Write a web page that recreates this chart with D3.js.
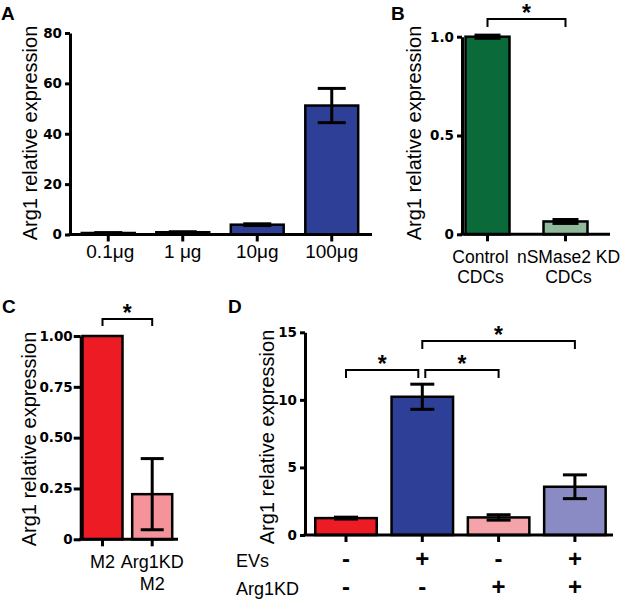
<!DOCTYPE html>
<html><head><meta charset="utf-8">
<script src="https://cdn.jsdelivr.net/npm/d3@7"></script>
<style>body{margin:0;background:#fff} svg{display:block}</style>
</head><body>
<svg id="chart" width="625" height="603"></svg>
<script>
// ---------- data ----------
const aCategories = ["0.1μg", "1 μg", "10μg", "100μg"];
const aValues = [0.6, 0.9, 3.9, 51.2];
const aErrors = [0.15, 0.2, 0.35, 6.8];
const aTicks = [0, 20, 40, 60, 80];

const bCategories = ["Control\nCDCs", "nSMase2 KD\nCDCs"];
const bValues = [1.0, 0.065];
const bErrors = [0.008, 0.01];
const bTicks = [0, 0.5, 1.0];
const bTickLabels = ["0", "0.5", "1.0"];

const cCategories = ["M2", "Arg1KD\nM2"];
const cValues = [1.0, 0.222];
const cErrors = [0, 0.175];
const cTicks = [0, 0.25, 0.5, 0.75, 1.0];
const cTickLabels = ["0", "0.25", "0.50", "0.75", "1.00"];

const dGroups = ["EV-/KD-", "EV+/KD-", "EV-/KD+", "EV+/KD+"];
const dValues = [1.25, 10.23, 1.3, 3.57];
const dErrors = [0.07, 0.93, 0.2, 0.88];
const dTicks = [0, 5, 10, 15];
const dRowLabels = ["EVs", "Arg1KD"];
const dEVs = ["-", "+", "-", "+"];
const dArg1KD = ["-", "-", "+", "+"];

const bSig = [[0, 1]];
const cSig = [[0, 1]];
const dSig = [[0, 1], [1, 2], [1, 3]];

// ---------- drawing ----------
const svg = d3.select("#chart");
const FONT = "'Liberation Sans', Arial, Helvetica, sans-serif";
const NUMFONT = "'DejaVu Sans', sans-serif";

function panel(cfg) {
  const g = svg.append("g");
  const x = d3.scaleBand().domain(cfg.keys).range(cfg.xRange)
    .paddingInner(cfg.pad).paddingOuter(cfg.pad / 2);
  const y = d3.scaleLinear().domain(cfg.yDomain).range(cfg.yRange);
  const cx = k => x(k) + x.bandwidth() / 2;

  // bars
  g.selectAll("rect.bar").data(cfg.values).join("rect")
    .attr("class", "bar")
    .attr("x", (d, i) => x(cfg.keys[i]))
    .attr("width", x.bandwidth())
    .attr("y", d => y(d))
    .attr("height", d => y(0) - y(d))
    .attr("fill", (d, i) => cfg.colors[i])
    .attr("stroke", "#000").attr("stroke-width", 2.5);

  // error bars
  const eg = g.append("g").attr("stroke", "#000").attr("stroke-width", 3);
  cfg.values.forEach((v, i) => {
    const e = cfg.errors[i];
    if (!e) return;
    const c = cx(cfg.keys[i]);
    eg.append("line").attr("x1", c).attr("x2", c).attr("y1", y(v - e)).attr("y2", y(v + e));
    [v - e, v + e].forEach(t => {
      eg.append("line").attr("x1", c - cfg.cap / 2).attr("x2", c + cfg.cap / 2)
        .attr("y1", y(t)).attr("y2", y(t));
    });
  });

  // y axis
  const ya = d3.axisLeft(y).tickValues(cfg.ticks)
    .tickFormat((d, i) => cfg.tickLabels ? cfg.tickLabels[i] : d)
    .tickSize(cfg.tickLen || 5).tickPadding(cfg.tickPad || 3).tickSizeOuter(0);
  const gy = g.append("g").attr("transform", `translate(${cfg.axisX},0)`).call(ya);
  gy.selectAll("path, line").attr("stroke", "#000").attr("stroke-width", 3);
  gy.selectAll("text").attr("font-family", NUMFONT).attr("font-weight", "bold")
    .attr("font-size", 13.5).attr("fill", "#000");

  // x axis
  const xa = d3.axisBottom(x).tickSize(7).tickFormat("").tickSizeOuter(0);
  const gx = g.append("g").attr("transform", `translate(0,${y(0)})`).call(xa);
  gx.select(".domain").remove();
  gx.selectAll("line").attr("stroke", "#000").attr("stroke-width", 3);
  g.append("line").attr("x1", cfg.axisX - 1.5).attr("x2", cfg.xEnd)
    .attr("y1", y(0)).attr("y2", y(0)).attr("stroke", "#000").attr("stroke-width", 3);

  // x labels
  if (cfg.xLabelY) {
    cfg.keys.forEach((k, i) => {
      const lines = cfg.labels[i].split("\n");
      const dx = cfg.labelDx ? cfg.labelDx[i] : 0;
      lines.forEach((ln, j) => {
        g.append("text").attr("x", cx(k) + dx).attr("y", cfg.xLabelY + j * cfg.lineH)
          .attr("text-anchor", "middle").attr("font-family", FONT)
          .attr("font-size", cfg.xFont).attr("fill", "#000").text(ln);
      });
    });
  }

  // y label
  g.append("text")
    .attr("transform", `translate(${cfg.yLabel[0]},${cfg.yLabel[1]}) rotate(-90)`)
    .attr("text-anchor", "middle").attr("font-family", FONT).attr("font-size", 20)
    .attr("fill", "#000").text("Arg1 relative expression");

  // panel letter
  g.append("text").attr("x", cfg.letterPos[0]).attr("y", cfg.letterPos[1])
    .attr("font-family", FONT).attr("font-weight", "bold").attr("font-size", 19)
    .attr("fill", "#000").text(cfg.letter);

  // significance brackets
  (cfg.sig || []).forEach((p, i) => {
    const s = cfg.sigStyle[i];
    const x1 = cx(cfg.keys[p[0]]) + (s.inL || 0);
    const x2 = cx(cfg.keys[p[1]]) - (s.inR || 0);
    g.append("path")
      .attr("d", `M${x1},${s.y + s.leg}V${s.y}H${x2}V${s.y + s.leg}`)
      .attr("fill", "none").attr("stroke", "#000").attr("stroke-width", 2);
    g.append("text").attr("x", (x1 + x2) / 2).attr("y", s.y + 1.5)
      .attr("text-anchor", "middle").attr("font-family", FONT).attr("font-weight", "bold")
      .attr("font-size", 23).attr("fill", "#000").text("*");
  });

  return { g, x, y, cx };
}

// Panel A
panel({
  keys: aCategories, labels: aCategories, values: aValues, errors: aErrors,
  xRange: [71, 369], pad: 0.29, yDomain: [0, 80], yRange: [234.5, 33],
  axisX: 70, xEnd: 372, ticks: aTicks, cap: 28,
  colors: aCategories.map(() => "#2E3F97"),
  xLabelY: 258, lineH: 20, xFont: 19, labelDx: [2, 0, 0, 0],
  yLabel: [37, 133], letter: "A", letterPos: [1, 20]
});

// Panel B
panel({
  keys: bCategories, labels: bCategories, values: bValues, errors: bErrors,
  xRange: [448.5, 604.5], pad: 0.436, yDomain: [0, 1], yRange: [234.3, 36.7],
  axisX: 462, xEnd: 610, ticks: bTicks, tickLabels: bTickLabels, cap: 26,
  colors: ["#0A6A39", "#90B99B"],
  xLabelY: 263, lineH: 20, xFont: 17.5, labelDx: [-7, 3],
  yLabel: [421, 133], letter: "B", letterPos: [391, 20],
  sig: bSig, sigStyle: [{ y: 19, leg: 8 }]
});

// Panel C
panel({
  keys: cCategories, labels: cCategories, values: cValues, errors: cErrors,
  xRange: [77.65, 177.05], pad: 0.195, yDomain: [0, 1], yRange: [539.3, 336],
  axisX: 80.7, xEnd: 178, ticks: cTicks, tickLabels: cTickLabels, cap: 23,
  tickLen: 7, tickPad: 1,
  colors: ["#ED1C24", "#F5939B"],
  xLabelY: 568, lineH: 22, xFont: 18,
  yLabel: [36, 439], letter: "C", letterPos: [2, 313],
  sig: cSig, sigStyle: [{ y: 319, leg: 7 }]
});

// Panel D
const D = panel({
  keys: dGroups, labels: dGroups, values: dValues, errors: dErrors,
  xRange: [307.85, 613.05], pad: 0.194, yDomain: [0, 15], yRange: [535, 332.3],
  axisX: 305, xEnd: 613, ticks: dTicks, cap: 24,
  colors: ["#ED1C24", "#2E3F97", "#F4A3A8", "#8A8AC4"],
  xLabelY: null,
  yLabel: [274, 437], letter: "D", letterPos: [228, 313],
  sig: dSig, sigStyle: [{ y: 370, leg: 8, inR: 4 }, { y: 370, leg: 8, inL: 3 }, { y: 341, leg: 8 }]
});

// Panel D condition table
[dEVs, dArg1KD].forEach((row, r) => {
  const by = [566.5, 595][r];
  D.g.append("text").attr("x", 236).attr("y", by).attr("font-family", FONT)
    .attr("font-size", 18).attr("fill", "#000").text(dRowLabels[r]);
  row.forEach((s, i) => {
    D.g.append("text").attr("x", D.cx(dGroups[i])).attr("y", by)
      .attr("text-anchor", "middle").attr("font-family", FONT).attr("font-weight", "bold")
      .attr("font-size", 24).attr("fill", "#000").text(s);
  });
});
</script>
</body></html>
